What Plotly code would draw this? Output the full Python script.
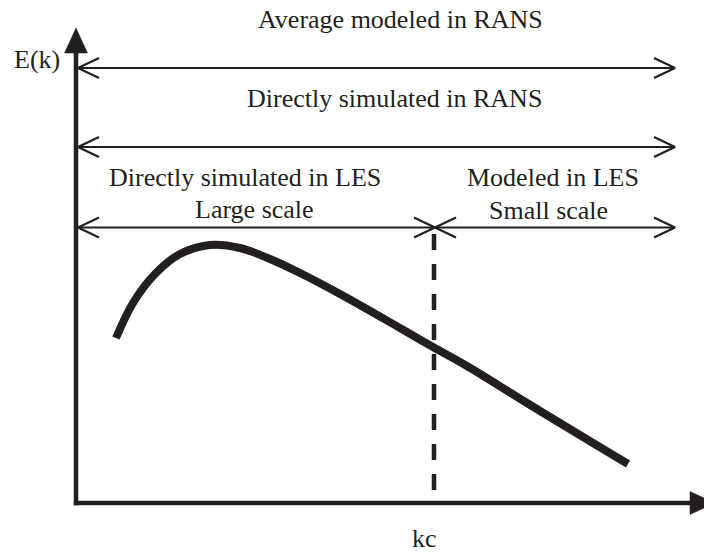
import plotly.graph_objects as go

# energy spectrum E(k)
curve_k = [40, 57, 79, 104, 134, 164, 194, 224, 264, 324, 357, 391, 451, 517, 552]
curve_E = [165, 200, 229, 249, 258, 255, 244, 230, 209, 175, 156, 137, 100, 60, 39]

# cutoff wavenumber and extent of the range arrows
kc = 358
span_start = [2, 2, 2, kc + 1]
span_end = [599, 599, kc + 1, 599]
span_level = [435, 356, 275.5, 275.5]

ink = '#231f20'
font_name = 'Liberation Serif'


def double_arrow(a, b, y, head=21, spread=10):
    xs = [a, b, None, a + head, a, a + head, None, b - head, b, b - head]
    ys = [y, y, None, y + spread, y, y - spread, None, y + spread, y, y - spread]
    return xs, ys


fig = go.Figure()

# range arrows (RANS / LES)
for a, b, y in zip(span_start, span_end, span_level):
    xs, ys = double_arrow(a, b, y)
    fig.add_trace(go.Scatter(x=xs, y=ys, mode='lines',
                             line=dict(color=ink, width=2.2),
                             hoverinfo='skip', showlegend=False))

# cutoff kc
fig.add_trace(go.Scatter(x=[kc, kc], y=[13, 271], mode='lines',
                         line=dict(color=ink, width=4.5, dash='16px,14px'),
                         hoverinfo='skip', showlegend=False))

# spectrum
fig.add_trace(go.Scatter(x=curve_k, y=curve_E, mode='lines',
                         line=dict(color=ink, width=8, shape='spline', smoothing=1),
                         hoverinfo='skip', showlegend=False))

# axes with filled arrow heads
fig.add_shape(type='line', x0=0, y0=-2.2, x1=0, y1=452, line=dict(color=ink, width=4.5))
fig.add_shape(type='path', path='M -11.5,450 L 11.5,450 L 0,475 Z',
              fillcolor=ink, line=dict(color=ink, width=0.5))
fig.add_shape(type='line', x0=-2.2, y0=0, x1=616, y1=0, line=dict(color=ink, width=4.5))
fig.add_shape(type='path', path='M 614,-11.5 L 614,11.5 L 639,0 Z',
              fillcolor=ink, line=dict(color=ink, width=0.5))

labels = [
    ('Average modeled in RANS', 324, 484),
    ('Directly simulated in RANS', 318, 405),
    ('Directly simulated in LES', 169, 326),
    ('Large scale', 178, 294),
    ('Modeled in LES', 477, 326),
    ('Small scale', 472, 293),
    ('E(k)', -39, 444),
    ('kc', 348, -35),
]
for text, x, y in labels:
    fig.add_annotation(x=x, y=y, text=text, showarrow=False,
                       xanchor='center', yanchor='middle',
                       font=dict(family=font_name, size=26, color=ink))

# one data unit = one pixel
fig.update_layout(
    width=704, height=554,
    margin=dict(l=0, r=0, t=0, b=0),
    paper_bgcolor='white', plot_bgcolor='white',
    xaxis=dict(range=[-76, 628], visible=False, fixedrange=True),
    yaxis=dict(range=[-51, 503], visible=False, fixedrange=True),
)

# drop the default 8px page margin so the figure fills the window
fig.write_html("out.html", config={'displayModeBar': False},
               post_script="document.body.style.margin = '0';")
